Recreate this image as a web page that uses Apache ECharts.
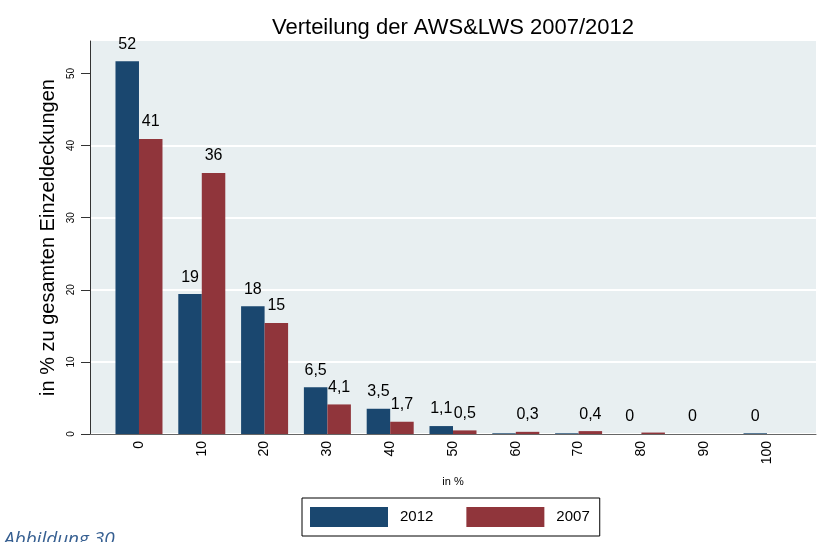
<!DOCTYPE html>
<html>
<head>
<meta charset="utf-8">
<script src="https://cdn.jsdelivr.net/npm/echarts@6/dist/echarts.min.js"></script>
<style>
  html, body { margin: 0; padding: 0; background: #fff; }
  #chart { width: 838px; height: 542px; }
</style>
</head>
<body>
<div id="chart"></div>
<script>
// Daten
const categories = [0, 10, 20, 30, 40, 50, 60, 70, 80, 90, 100];
const values2012 = [51.7, 19.4, 17.7, 6.5, 3.5, 1.1, 0.1, 0.1, 0, 0, 0.1];
const values2007 = [40.9, 36.2, 15.4, 4.1, 1.7, 0.5, 0.3, 0.4, 0.2, 0, 0];
const labels2012 = ['52', '19', '18', '6,5', '3,5', '1,1', '', '', '0', '0', '0'];
const labels2007 = ['41', '36', '15', '4,1', '1,7', '0,5', '0,3', '0,4', '', '', ''];
const yTicks = [0, 10, 20, 30, 40, 50];

const font = 'Liberation Sans, Arial, sans-serif';

function barSeries(name, values, labels, color) {
    return {
        name: name,
        type: 'bar',
        barWidth: 23.5,
        barGap: '0%',
        data: categories.map((c, i) => [c, values[i]]),
        itemStyle: { color: color },
        label: {
            show: true,
            position: 'top',
            distance: 9,
            fontFamily: font,
            fontSize: 16,
            color: '#000',
            formatter: (p) => labels[p.dataIndex],
        },
    };
}

const chart = echarts.init(document.getElementById('chart'));
chart.setOption({
    animation: false,
    backgroundColor: '#fff',
    title: {
        text: 'Verteilung der AWS&LWS 2007/2012',
        left: 267,
        top: 12,
        textStyle: { fontFamily: font, fontSize: 22, fontWeight: 'normal', color: '#000' },
    },
    grid: {
        left: 90, right: 22, top: 41, bottom: 108,
        show: true, backgroundColor: '#e8eff1', borderWidth: 0,
    },
    legend: {
        left: 302,
        top: 498,
        padding: [9, 10, 9, 8],
        itemWidth: 78,
        itemHeight: 20,
        itemGap: 33,
        icon: 'rect',
        borderColor: '#000',
        borderWidth: 1,
        textStyle: { fontFamily: font, fontSize: 15, color: '#000', padding: [0, 0, 0, 7] },
        data: ['2012', '2007'],
    },
    xAxis: {
        type: 'value',
        min: -7.8,
        max: 107.8,
        name: 'in %',
        nameLocation: 'middle',
        nameGap: 42,
        nameTextStyle: { fontFamily: font, fontSize: 11, color: '#000' },
        axisLine: { show: true, onZero: false, lineStyle: { color: '#666', width: 1 } },
        axisTick: { show: false },
        splitLine: { show: false },
        axisLabel: {
            customValues: categories,
            rotate: 90,
            margin: 7,
            fontFamily: font,
            fontSize: 14,
            color: '#000',
        },
    },
    yAxis: {
        type: 'value',
        min: 0,
        max: 54.5,
        name: 'in % zu gesamten Einzeldeckungen',
        nameLocation: 'middle',
        nameGap: 31,
        nameTextStyle: { fontFamily: font, fontSize: 20, color: '#000' },
        axisLine: { show: true, onZero: false, lineStyle: { color: '#333', width: 1 } },
        axisTick: { show: true, length: 9, customValues: yTicks, lineStyle: { color: '#333' } },
        axisLabel: {
            customValues: yTicks,
            rotate: 90,
            margin: 14,
            fontFamily: font,
            fontSize: 10,
            color: '#000',
        },
        splitLine: { show: true, showMaxLine: false, lineStyle: { color: '#fff', width: 2 } },
    },
    graphic: [{
        type: 'text',
        left: 4,
        top: 530,
        style: {
            text: 'Abbildung 30',
            fontFamily: 'Open Sans, sans-serif',
            fontStyle: 'italic',
            fontSize: 19,
            fill: '#365f91',
        },
    }],
    series: [
        barSeries('2012', values2012, labels2012, '#1a476f'),
        barSeries('2007', values2007, labels2007, '#90353b'),
    ],
});
</script>
</body>
</html>
